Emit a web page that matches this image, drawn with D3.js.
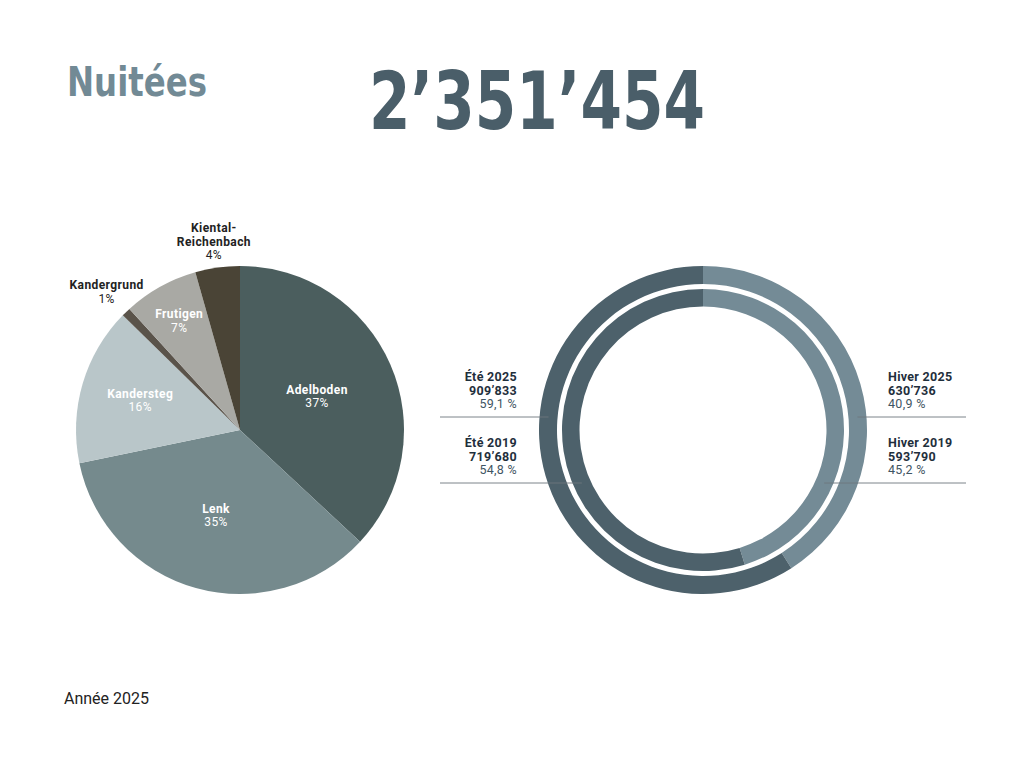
<!DOCTYPE html>
<html lang="fr">
<head>
<meta charset="UTF-8">
<title>Nuitées</title>
<script src="https://cdn.jsdelivr.net/npm/d3@7"></script>
<style>
  body { margin: 0; background: #fff; }
  svg { display: block; font-family: "DejaVu Sans", sans-serif; }
</style>
</head>
<body>
<div id="container"></div>
<script>
// data
const communes = ["Adelboden", "Lenk", "Kandersteg", "Kandergrund", "Frutigen", "Kiental-\nReichenbach"]
const shares = [37.0, 34.9, 15.6, 0.9, 7.4, 4.4]
const shareLabels = ["37%", "35%", "16%", "1%", "7%", "4%"]

const seasons = ["Hiver", "Été"]
const years = ["2025", "2019"]          // outer ring, inner ring
const nights2025 = [630736, 909833]     // hiver, été
const nights2019 = [593790, 719680]
const pct2025 = ["40,9 %", "59,1 %"]
const pct2019 = ["45,2 %", "54,8 %"]
const totalLabel = "2’351’454"

const w = 1024, h = 768
const svg = d3.select("#container").append("svg").attr("width", w).attr("height", h)

// titles
svg.append("text").attr("x", 67).attr("y", 96)
  .attr("font-size", 40).attr("font-weight", "bold").attr("fill", "#728a95")
  .attr("textLength", 140).attr("lengthAdjust", "spacingAndGlyphs")
  .text("Nuitées")
svg.append("text").attr("x", 369).attr("y", 129)
  .attr("font-size", 81).attr("font-weight", "bold").attr("fill", "#4a5e69")
  .attr("textLength", 336).attr("lengthAdjust", "spacingAndGlyphs")
  .text(totalLabel)
svg.append("text").attr("x", 64).attr("y", 704)
  .attr("font-size", 16).attr("fill", "#222")
  .attr("font-family", "Roboto, sans-serif")
  .text("Année 2025")

// ---- pie by commune
const pieColors = d3.scaleOrdinal(communes, ["#4b5e5e", "#758a8d", "#b9c6c9", "#5a534a", "#a9a9a4", "#4a4436"])
const R = 164
const pieG = svg.append("g").attr("transform", "translate(240,430)")
const pie = d3.pie().sort(null).value(d => d)
const arcs = pie(shares)
const arc = d3.arc().innerRadius(0).outerRadius(R)
pieG.selectAll("path").data(arcs).enter().append("path")
  .attr("d", arc)
  .attr("fill", (d, i) => pieColors(communes[i]))

// label radius per slice (inside for big ones, outside for small)
const labelR = [84, 89, 104, 192, 125, 190]
const inside = [true, true, true, false, true, false]
arcs.forEach((a, i) => {
  const m = (a.startAngle + a.endAngle) / 2
  const x = Math.sin(m) * labelR[i], y = -Math.cos(m) * labelR[i]
  const lines = communes[i].split("\n")
  const t = pieG.append("text").attr("text-anchor", "middle")
    .attr("font-size", 12).attr("letter-spacing", 0.4).attr("font-family", "Roboto, sans-serif")
    .attr("fill", inside[i] ? "#fff" : "#222")
  const all = lines.concat([shareLabels[i]])
  const y0 = y - (all.length - 1) * 13.5 / 2 + 4
  all.forEach((s, k) => {
    t.append("tspan").attr("x", x).attr("y", y0 + k * 13.5)
      .attr("font-weight", k < lines.length ? "bold" : "normal")
      .text(s)
  })
})

// ---- seasonal rings
const cx = 703, cy = 430
const ringColors = d3.scaleOrdinal(seasons, ["#748b96", "#4d616b"])
const rings = [
  { year: years[0], vals: nights2025, pct: pct2025, r0: 146, r1: 164, lineY: 417 },
  { year: years[1], vals: nights2019, pct: pct2019, r0: 123.5, r1: 141, lineY: 483 }
]
const ringG = svg.append("g").attr("transform", `translate(${cx},${cy})`)
const fmt = v => d3.format(",")(v).replace(/,/g, "’")

rings.forEach(rg => {
  const ringArc = d3.arc().innerRadius(rg.r0).outerRadius(rg.r1)
  ringG.append("g").selectAll("path").data(pie(rg.vals)).enter().append("path")
    .attr("d", ringArc)
    .attr("fill", (d, i) => ringColors(seasons[i]))

  // leader lines reach the middle of the ring
  const rm = (rg.r0 + rg.r1) / 2
  const dy = rg.lineY - cy
  const dx = Math.sqrt(rm * rm - dy * dy)
  const lineCol = "#6d777d"
  svg.append("line").attr("x1", 440).attr("x2", cx - dx).attr("y1", rg.lineY).attr("y2", rg.lineY)
    .attr("stroke", lineCol).attr("stroke-width", 0.9)
  svg.append("line").attr("x1", cx + dx).attr("x2", 966).attr("y1", rg.lineY).attr("y2", rg.lineY)
    .attr("stroke", lineCol).attr("stroke-width", 0.9)

  // été on the left, hiver on the right
  const sides = [{ i: 1, x: 517, anchor: "end" }, { i: 0, x: 888, anchor: "start" }]
  sides.forEach(s => {
    const t = svg.append("text").attr("text-anchor", s.anchor)
      .attr("font-size", 12.5).attr("letter-spacing", 0.3).attr("font-family", "Roboto, sans-serif")
    const txt = [`${seasons[s.i]} ${rg.year}`, fmt(rg.vals[s.i]), rg.pct[s.i]]
    txt.forEach((str, k) => {
      t.append("tspan").attr("x", s.x).attr("y", rg.lineY - 36 + k * 13.5)
        .attr("font-weight", k < 2 ? "bold" : "normal")
        .attr("fill", k < 2 ? "#1f2f3c" : "#3f5563")
        .text(str)
    })
  })
})
</script>
</body>
</html>
